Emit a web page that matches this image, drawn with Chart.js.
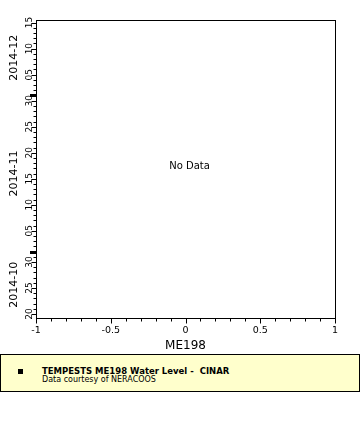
<!DOCTYPE html>
<html>
<head>
<meta charset="utf-8">
<script src="https://cdn.jsdelivr.net/npm/chart.js@4"></script>
<style>
  html, body { margin: 0; padding: 0; background: #fff; }
  body { width: 360px; height: 440px; position: relative; font-family: "DejaVu Sans", sans-serif; }
  #chart { position: absolute; left: 0; top: 0; }
  #legend { position: absolute; left: 0; top: 354px; width: 358px; height: 36px; background: #ffffcc; border: 1px solid #000; }
  #legend .marker { position: absolute; left: 17px; top: 14px; width: 5px; height: 5px; background: #000; }
  #legend .l1 { position: absolute; left: 41px; top: 11px; font-size: 8.5px; line-height: 10px; font-weight: bold; white-space: pre; }
  #legend .l2 { position: absolute; left: 41px; top: 20px; font-size: 8px; line-height: 10px; white-space: pre; }
</style>
</head>
<body>
<canvas id="chart" width="360" height="352"></canvas>
<div id="legend">
  <span class="marker"></span>
  <div class="l1"></div>
  <div class="l2"></div>
</div>
<script>
const DAY = 86400000;
const FONT = 'DejaVu Sans';

// the station returned nothing for this window
const seriesValues = [];
const seriesName = 'TEMPESTS ME198 Water Level -  CINAR';
const credit = 'Data courtesy of NERACOOS';

const xRange = [-1, 1];
const xMajorStep = 0.5;
const xMinorStep = 0.1;
const xTitle = 'ME198';

const yRange = ['2014-10-19T06:00:00Z', '2014-12-15T12:00:00Z'];
const months = ['2014-10', '2014-11', '2014-12'];
const emptyText = 'No Data';

document.querySelector('#legend .l1').textContent = seriesName;
document.querySelector('#legend .l2').textContent = credit;

const yMin = Date.parse(yRange[0]) / DAY;
const yMax = Date.parse(yRange[1]) / DAY;
const dayOf = v => new Date(Math.round(v) * DAY).getUTCDate();
const isMajorX = v => Math.abs(v / xMajorStep - Math.round(v / xMajorStep)) < 1e-6;

const frame = {
  id: 'frame',
  afterDraw(chart) {
    const { ctx, chartArea: a, scales: { x, y } } = chart;
    ctx.save();
    ctx.strokeStyle = '#000';
    ctx.fillStyle = '#000';
    ctx.lineWidth = 1;
    ctx.strokeRect(a.left + 0.5, a.top + 0.5, a.right - a.left, a.bottom - a.top);

    ctx.beginPath();
    y.ticks.forEach(t => {
      const py = Math.round(y.getPixelForValue(t.value)) + 0.5;
      const d = dayOf(t.value);
      const len = d % 5 === 0 ? 5 : 3;
      ctx.moveTo(a.left + 0.5 - len, py);
      ctx.lineTo(a.left + 0.5, py);
      if (d === 1) ctx.fillRect(a.left - 6, py - 1.5, 6, 3);
    });
    x.ticks.forEach(t => {
      const px = Math.round(x.getPixelForValue(t.value)) + 0.5;
      const len = isMajorX(t.value) ? 5 : 3;
      ctx.moveTo(px, a.bottom + 0.5);
      ctx.lineTo(px, a.bottom + 0.5 + len);
    });
    ctx.stroke();

    // month names along the time axis
    ctx.font = '11px "' + FONT + '"';
    ctx.textAlign = 'center';
    ctx.textBaseline = 'middle';
    months.forEach(m => {
      const [yr, mo] = m.split('-').map(Number);
      const lo = Math.max(Date.UTC(yr, mo - 1, 1) / DAY, yMin);
      const hi = Math.min(Date.UTC(yr, mo, 1) / DAY, yMax);
      if (hi <= lo) return;
      ctx.save();
      ctx.translate(14, y.getPixelForValue((lo + hi) / 2));
      ctx.rotate(-Math.PI / 2);
      ctx.fillText(m, 0, 0);
      ctx.restore();
    });

    if (!seriesValues.length) {
      ctx.font = '10px "' + FONT + '"';
      ctx.fillText(emptyText, (a.left + a.right) / 2 + 4, a.top + (a.bottom - a.top) * 0.49);
    }
    ctx.restore();
  }
};

new Chart(document.getElementById('chart'), {
  type: 'scatter',
  data: {
    datasets: [{
      label: seriesName,
      data: seriesValues,
      backgroundColor: '#000',
      pointRadius: 2
    }]
  },
  options: {
    responsive: false,
    devicePixelRatio: 1,
    animation: false,
    events: [],
    layout: { padding: { top: 20, right: 25, left: 0, bottom: 0 } },
    plugins: { legend: { display: false }, tooltip: { enabled: false } },
    scales: {
      x: {
        type: 'linear',
        min: xRange[0],
        max: xRange[1],
        grid: { display: false, drawTicks: false },
        border: { display: false },
        afterBuildTicks: s => {
          const t = [];
          const n = Math.round((xRange[1] - xRange[0]) / xMinorStep);
          for (let i = 0; i <= n; i++) t.push({ value: Math.round((xRange[0] + i * xMinorStep) * 1e6) / 1e6 });
          s.ticks = t;
        },
        afterFit: s => { s.height = 34; },
        ticks: {
          autoSkip: false,
          maxRotation: 0,
          padding: 7,
          color: '#000',
          font: { family: FONT, size: 9.5 },
          callback: v => isMajorX(v) ? String(v) : ''
        },
        title: {
          display: true,
          text: xTitle,
          color: '#000',
          font: { family: FONT, size: 12 },
          padding: { top: 0, bottom: -1 }
        }
      },
      y: {
        type: 'linear',
        min: yMin,
        max: yMax,
        grid: { display: false, drawTicks: false },
        border: { display: false },
        afterBuildTicks: s => {
          const t = [];
          for (let d = Math.ceil(yMin); d <= Math.floor(yMax); d++) t.push({ value: d });
          s.ticks = t;
        },
        afterFit: s => { s.width = 36; },
        ticks: {
          autoSkip: false,
          minRotation: 90,
          maxRotation: 90,
          crossAlign: 'center',
          padding: 1,
          color: '#000',
          font: { family: FONT, size: 9 },
          callback: v => dayOf(v) % 5 === 0 ? String(dayOf(v)).padStart(2, '0') : ''
        }
      }
    }
  },
  plugins: [frame]
});
</script>
</body>
</html>
